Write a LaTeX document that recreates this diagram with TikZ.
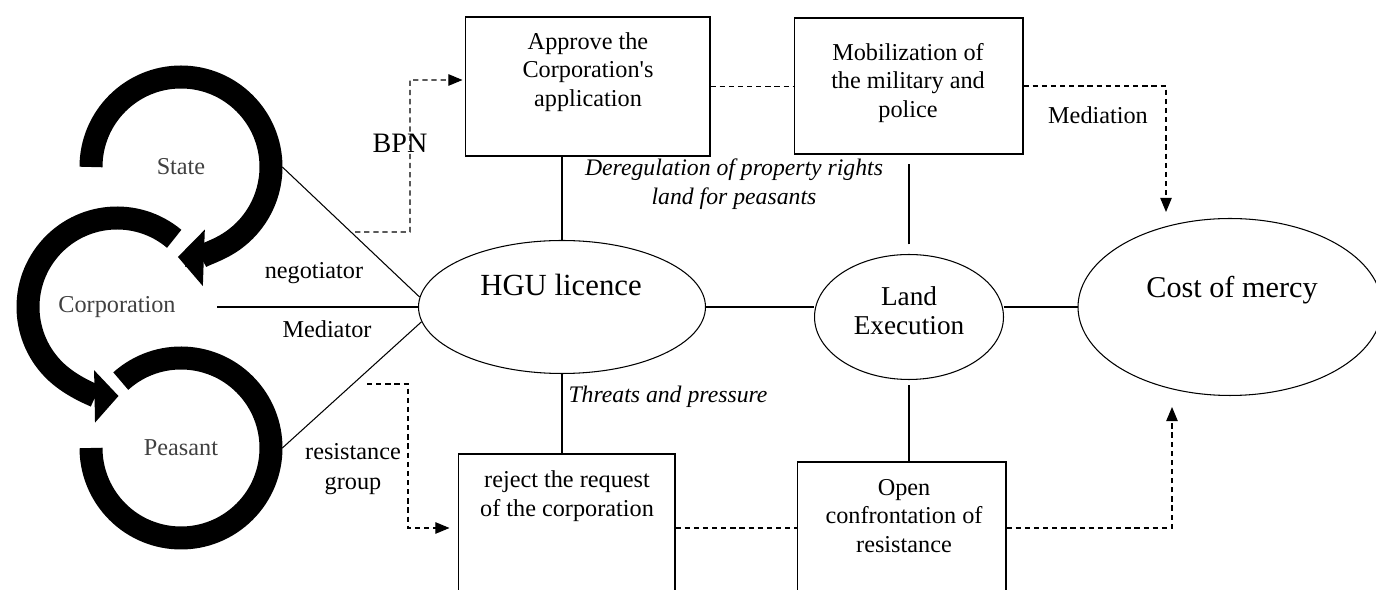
\documentclass[tikz,border=0pt]{standalone}
\usepackage{fontspec}
\setmainfont{Liberation Serif}
\usepackage{tikz}
\usetikzlibrary{shapes.geometric, arrows.meta}
\usetikzlibrary{calc}
\usetikzlibrary{positioning}
\newcommand{\straightquote}{\XeTeXglyph\XeTeXcharglyph"0027\relax}

\begin{document}
\begin{tikzpicture}[x=0.02cm, y=-0.02cm,
        nodes={align=center, font={\fontsize{13.8}{16.2}\selectfont}},
        panel_style/.style={rectangle, draw, line width=0.6pt, inner sep=0pt},
        oval_style/.style={ellipse, draw, line width=0.6pt, inner sep=0pt},
        actor_style/.style={circle, inner sep=0pt, minimum size=4.04cm, text=black!75},
        ring_style/.style={line width=0.46cm, black},
        link_style/.style={line width=0.6pt},
        flow_style/.style={line width=0.6pt, dash pattern=on 3pt off 2.2pt},
        tip_style/.style={-{Triangle[length=8pt, width=6.5pt]}},
        italic_style/.style={font={\fontsize{13.5}{16.5}\selectfont\itshape}}]

      \clip (0,0) rectangle (1376,590);

      % actors on the left
      \node[actor_style] (state) at (181,167) {State};
      \node[actor_style, minimum size=4cm] (corp) at (117,307) {Corporation};
      \node[actor_style] (peasant) at (181,448) {Peasant};

      \draw[ring_style, -{Triangle[length=0.52cm, width=1.1cm]}] (state) ++(180:90) arc (180:452:90);
      \draw[ring_style, -{Triangle[length=0.48cm, width=1.02cm]}] (corp) ++(310:89) arc (310:89:89);
      \draw[ring_style] (peasant) ++(228:90) arc (228:540:90);

      % boxes
      \node[panel_style, minimum width=4.9cm, minimum height=2.78cm] (approve) at (587.5,86.5) {};
      \node (approve_text) at (588,72) {Approve the\\Corporation\straightquote s\\application};
      \node[panel_style, minimum width=4.58cm, minimum height=2.72cm] (mobil) at (908.5,86) {};
      \node (mobil_text) at (908,83) {Mobilization of\\the military and\\police};
      \node[panel_style, minimum width=4.34cm, minimum height=2.96cm] (reject) at (566.5,528) {};
      \node (reject_text) at (567,496) {reject the request\\of the corporation};
      \node[panel_style, minimum width=4.18cm, minimum height=2.64cm] (confront) at (901.5,528) {};
      \node (confront_text) at (904,516) {Open\\confrontation of\\resistance};

      % ovals
      \node[oval_style, minimum width=5.74cm, minimum height=2.66cm] (hgu) at (562,307) {};
      \node[font={\fontsize{17.5}{20}\selectfont}] (hgu_text) at (561,285) {HGU licence};
      \node[oval_style, minimum width=3.78cm, minimum height=2.5cm] (land) at (909,317) {};
      \node[font={\fontsize{15.5}{16.5}\selectfont}] (land_text) at (909,311) {Land\\Execution};
      \node[oval_style, minimum width=6.08cm, minimum height=3.54cm] (mercy) at (1230,307) {};
      \node[font={\fontsize{17.2}{20}\selectfont}] (mercy_text) at (1232,290) {Cost of mercy};

      % labels
      \node[font={\fontsize{16}{18}\selectfont}] (bpn_label) at (400,143) {BPN};
      \node (nego_label) at (314,273) {negotiator};
      \node (medi_label) at (327,329) {Mediator};
      \node[font={\fontsize{13.8}{17}\selectfont}] (resist_label) at (353,469) {resistance\\group};
      \node (mediation_label) at (1098,115) {Mediation};
      \node[italic_style] (dereg_label) at (734,184) {Deregulation of property rights\\land for peasants};
      \node[italic_style] (threat_label) at (668,397) {Threats and pressure};

      \coordinate (bpn_start) at (355,232);
      \coordinate (bpn_turn) at (410,80);
      \coordinate (resist_start) at (367,384);
      \coordinate (resist_turn) at (408,528);
      \coordinate (mediation_tip) at (1166,212);
      \coordinate (resist_tip) at (1172,407);

      % solid links
      \draw[link_style] (state.east) -- (hgu.176);
      \draw[link_style] (corp.east) -- (hgu.west);
      \draw[link_style] (peasant.east) -- (hgu.186);
      \draw[link_style] (hgu.north) -- (hgu.north |- approve.south);
      \draw[link_style] (hgu.south) -- (hgu.south |- reject.north);
      \draw[link_style] (hgu.east) -- (hgu.east -| land.west);
      \draw[link_style] (mercy.west) -- (mercy.west -| land.east);
      \draw[link_style, shorten <=0.19cm, shorten >=0.18cm] (land.north) -- (land.north |- mobil.south);
      \draw[link_style, shorten <=0.1cm] (land.south) -- (land.south |- confront.north);

      % dashed flows
      \draw[flow_style, tip_style] (bpn_start) -| (bpn_turn) -- ([xshift=-0.04cm, yshift=0.13cm]approve.west);
      \draw[flow_style, tip_style] (resist_start) -| (resist_turn) -- ([xshift=-0.16cm]reject.west);
      \draw[flow_style] (approve.east) -- (approve.east -| mobil.west);
      \draw[flow_style] (reject.east) -- (confront.west);
      \draw[flow_style, tip_style] (mobil.east) -| (mediation_tip);
      \draw[flow_style, tip_style] (confront.east) -| (resist_tip);
    \end{tikzpicture}
\end{document}
